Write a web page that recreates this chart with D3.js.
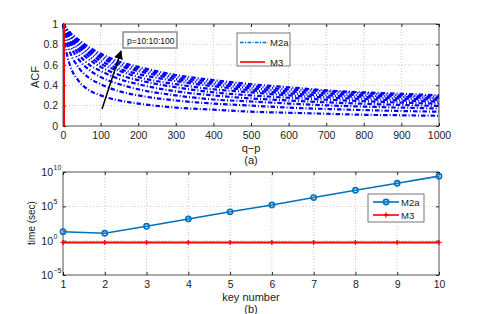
<!DOCTYPE html>
<html>
<head>
<meta charset="utf-8">
<script src="https://cdn.jsdelivr.net/npm/d3@7"></script>
<style>
  body { margin: 0; background: #fff; }
  svg { display: block; font-family: "Liberation Sans", Arial, sans-serif; }
  .tick text { font-size: 10.5px; fill: #222; }
</style>
</head>
<body>
<svg width="485" height="314"></svg>
<script>
// ---- panel (a): ACF vs q-p, one curve per p = 10:10:100 ----
var lags = [0, 5, 10, 20, 40, 70, 100, 150, 200, 300, 400, 500, 600, 700, 800, 900, 1000];
var acfP10  = [1, 0.82, 0.71, 0.58, 0.45, 0.35, 0.30, 0.25, 0.22, 0.18, 0.16, 0.14, 0.13, 0.12, 0.11, 0.105, 0.10];
var acfP20  = [1, 0.89, 0.82, 0.71, 0.58, 0.47, 0.41, 0.34, 0.30, 0.25, 0.22, 0.20, 0.18, 0.167, 0.156, 0.147, 0.14];
var acfP30  = [1, 0.93, 0.87, 0.78, 0.66, 0.55, 0.48, 0.41, 0.36, 0.30, 0.26, 0.24, 0.22, 0.203, 0.19, 0.18, 0.171];
var acfP40  = [1, 0.94, 0.89, 0.82, 0.71, 0.60, 0.54, 0.46, 0.41, 0.34, 0.30, 0.27, 0.25, 0.232, 0.218, 0.206, 0.196];
var acfP50  = [1, 0.95, 0.91, 0.85, 0.75, 0.65, 0.58, 0.50, 0.45, 0.38, 0.33, 0.30, 0.277, 0.258, 0.243, 0.229, 0.218];
var acfP60  = [1, 0.96, 0.93, 0.87, 0.78, 0.68, 0.61, 0.54, 0.48, 0.41, 0.36, 0.33, 0.30, 0.281, 0.264, 0.25, 0.238];
var acfP70  = [1, 0.97, 0.94, 0.88, 0.80, 0.71, 0.64, 0.56, 0.51, 0.44, 0.39, 0.35, 0.32, 0.30, 0.284, 0.269, 0.256];
var acfP80  = [1, 0.97, 0.94, 0.89, 0.82, 0.73, 0.67, 0.59, 0.54, 0.46, 0.41, 0.37, 0.34, 0.32, 0.30, 0.286, 0.272];
var acfP90  = [1, 0.97, 0.95, 0.91, 0.83, 0.75, 0.69, 0.61, 0.56, 0.48, 0.43, 0.39, 0.36, 0.34, 0.32, 0.30, 0.287];
var acfP100 = [1, 0.98, 0.95, 0.91, 0.85, 0.77, 0.71, 0.63, 0.58, 0.50, 0.45, 0.41, 0.38, 0.35, 0.33, 0.316, 0.30];
var m3Lags = [0, 0];
var m3Acf  = [0, 1];

// ---- panel (b): time vs key number ----
var keyNumbers = [1, 2, 3, 4, 5, 6, 7, 8, 9, 10];
var timeM2a = [20, 12, 125, 1450, 1.6e4, 1.6e5, 1.9e6, 2.2e7, 2.3e8, 2.5e9];
var timeM3  = [0.55, 0.55, 0.55, 0.55, 0.55, 0.55, 0.55, 0.55, 0.55, 0.55];

var acfTicks = [0, 0.2, 0.4, 0.6, 0.8, 1];
var lagTicks = [0, 100, 200, 300, 400, 500, 600, 700, 800, 900, 1000];
var timeTicks = [1e-5, 1, 1e5, 1e10];
var timeTickExp = ["\u22125", "0", "5", "10"];

var blue = "#0000ff", lightBlue = "#0072bd", red = "#ff0000", axisCol = "#262626", gridCol = "#bcbcbc";

var svg = d3.select("svg");
var left = 63, right = 439;

// ============ panel (a) ============
var x1 = d3.scaleLinear().domain([0, 1000]).range([left, right]),
  y1 = d3.scaleLinear().domain([0, 1]).range([126, 24]);

var g1 = svg.append("g");

// grid
g1.selectAll(".gx").data(lagTicks.slice(1, -1)).enter().append("line")
  .attr("x1", d => x1(d)).attr("x2", d => x1(d)).attr("y1", y1(0)).attr("y2", y1(1))
  .attr("stroke", gridCol).attr("stroke-width", 0.8).attr("stroke-dasharray", "1,2");
g1.selectAll(".gy").data(acfTicks.slice(1, -1)).enter().append("line")
  .attr("x1", left).attr("x2", right).attr("y1", d => y1(d)).attr("y2", d => y1(d))
  .attr("stroke", gridCol).attr("stroke-width", 0.8).attr("stroke-dasharray", "1,2");

var acfSeries = [acfP10, acfP20, acfP30, acfP40, acfP50, acfP60, acfP70, acfP80, acfP90, acfP100];

var acfLine = d3.line()
  .x((d, i) => x1(lags[i]))
  .y(d => y1(d))
  .curve(d3.curveMonotoneX);

g1.selectAll(".acf").data(acfSeries).enter().append("path")
  .attr("fill", "none")
  .attr("stroke", blue)
  .attr("stroke-width", 2.2)
  .attr("stroke-dasharray", "4.5,2,1,2")
  .attr("d", d => acfLine(d));

// axes (box style, ticks inward)
g1.append("g")
  .attr("transform", "translate(0,126)")
  .call(d3.axisBottom(x1).tickValues(lagTicks).tickSize(-3).tickPadding(6).tickFormat(d3.format("d")))
  .call(a => a.select(".domain").remove());
g1.append("g")
  .attr("transform", "translate(" + left + ",0)")
  .call(d3.axisLeft(y1).tickValues(acfTicks).tickSize(-3).tickPadding(5).tickFormat(d => d === 0 || d === 1 ? d : d3.format(".1f")(d)))
  .call(a => a.select(".domain").remove());
g1.append("g")
  .attr("transform", "translate(" + right + ",0)")
  .call(d3.axisRight(y1).tickValues(acfTicks).tickSize(-3).tickFormat(""))
  .call(a => a.select(".domain").remove());
g1.append("g")
  .attr("transform", "translate(0,24)")
  .call(d3.axisTop(x1).tickValues(lagTicks).tickSize(-3).tickFormat(""))
  .call(a => a.select(".domain").remove());
g1.selectAll(".tick line").attr("stroke", axisCol);
g1.append("rect").attr("x", left).attr("y", 24).attr("width", right - left).attr("height", 102)
  .attr("fill", "none").attr("stroke", axisCol).attr("stroke-width", 0.8);

// M3: only non-zero at lag 0
g1.append("path")
  .attr("fill", "none").attr("stroke", red).attr("stroke-width", 2)
  .attr("d", d3.line().x((d, i) => x1(m3Lags[i]) + 1).y(d => y1(d))(m3Acf));

g1.append("text").attr("x", 251).attr("y", 152).attr("text-anchor", "middle")
  .style("font-size", "11px").attr("fill", "#222").text("q\u2212p");
g1.append("text").attr("x", 251).attr("y", 164).attr("text-anchor", "middle")
  .style("font-size", "11px").attr("fill", "#222").text("(a)");
g1.append("text").attr("transform", "translate(39,77) rotate(-90)").attr("text-anchor", "middle")
  .style("font-size", "11px").attr("fill", "#222").text("ACF");

// annotation: arrow + p range box
svg.append("defs").append("marker")
  .attr("id", "head").attr("viewBox", "0 0 10 10").attr("refX", 9).attr("refY", 5)
  .attr("markerWidth", 6).attr("markerHeight", 6).attr("orient", "auto")
  .append("path").attr("d", "M0,0 L10,5 L0,10 Z").attr("fill", "#000");
g1.append("line").attr("x1", 102).attr("y1", 109).attr("x2", 121).attr("y2", 51)
  .attr("stroke", "#000").attr("stroke-width", 1.5).attr("marker-end", "url(#head)");
g1.append("rect").attr("x", 123).attr("y", 32).attr("width", 54).attr("height", 16)
  .attr("fill", "#fff").attr("stroke", "#8c8c8c").attr("stroke-width", 1.5);
g1.append("text").attr("x", 127).attr("y", 43.5).style("font-size", "8.5px").attr("fill", "#111").text("p=10:10:100");

// legend (a)
var leg1 = g1.append("g");
leg1.append("rect").attr("x", 237).attr("y", 33).attr("width", 53).attr("height", 33)
  .attr("fill", "#fff").attr("stroke", "#555").attr("stroke-width", 0.8);
leg1.append("line").attr("x1", 240).attr("x2", 268).attr("y1", 42.5).attr("y2", 42.5)
  .attr("stroke", lightBlue).attr("stroke-width", 1.3).attr("stroke-dasharray", "3.5,1.5,1,1.5");
leg1.append("text").attr("x", 270).attr("y", 46).style("font-size", "9.5px").attr("fill", "#222").text("M2a");
leg1.append("line").attr("x1", 240).attr("x2", 265).attr("y1", 62).attr("y2", 62)
  .attr("stroke", red).attr("stroke-width", 1.6);
leg1.append("text").attr("x", 270).attr("y", 65.5).style("font-size", "9.5px").attr("fill", "#222").text("M3");

// ============ panel (b) ============
var x2 = d3.scaleLinear().domain([1, 10]).range([left, right]),
  y2 = d3.scaleLog().domain([1e-5, 1e10]).range([275, 172]);

var g2 = svg.append("g");

g2.selectAll(".gx").data(keyNumbers.slice(1, -1)).enter().append("line")
  .attr("x1", d => x2(d)).attr("x2", d => x2(d)).attr("y1", 172).attr("y2", 275)
  .attr("stroke", gridCol).attr("stroke-width", 0.8).attr("stroke-dasharray", "1,2");
g2.selectAll(".gy").data(timeTicks.slice(1, -1)).enter().append("line")
  .attr("x1", left).attr("x2", right).attr("y1", d => y2(d)).attr("y2", d => y2(d))
  .attr("stroke", gridCol).attr("stroke-width", 0.8).attr("stroke-dasharray", "1,2");

g2.append("g")
  .attr("transform", "translate(0,275)")
  .call(d3.axisBottom(x2).tickValues(keyNumbers).tickSize(-3).tickPadding(6).tickFormat(d3.format("d")))
  .call(a => a.select(".domain").remove());
g2.append("g")
  .attr("transform", "translate(" + left + ",0)")
  .call(d3.axisLeft(y2).tickValues(timeTicks).tickSize(-3).tickFormat(""))
  .call(a => a.select(".domain").remove());
g2.append("g")
  .attr("transform", "translate(" + right + ",0)")
  .call(d3.axisRight(y2).tickValues(timeTicks).tickSize(-3).tickFormat(""))
  .call(a => a.select(".domain").remove());
g2.append("g")
  .attr("transform", "translate(0,172)")
  .call(d3.axisTop(x2).tickValues(keyNumbers).tickSize(-3).tickFormat(""))
  .call(a => a.select(".domain").remove());
g2.selectAll(".tick line").attr("stroke", axisCol);

// log tick labels with superscripts
g2.selectAll(".ylab").data(timeTicks).enter().append("text")
  .attr("x", 53).attr("y", d => y2(d) + 4).attr("text-anchor", "end")
  .style("font-size", "10.5px").attr("fill", "#222").text("10");
g2.selectAll(".yexp").data(timeTicks).enter().append("text")
  .attr("x", 53.5).attr("y", (d, i) => y2(d) - 2)
  .style("font-size", "7px").attr("fill", "#222").text((d, i) => timeTickExp[i]);

g2.append("rect").attr("x", left).attr("y", 172).attr("width", right - left).attr("height", 103)
  .attr("fill", "none").attr("stroke", axisCol).attr("stroke-width", 0.8);

// M3 series
g2.append("path")
  .attr("fill", "none").attr("stroke", red).attr("stroke-width", 2)
  .attr("d", d3.line().x((d, i) => x2(keyNumbers[i])).y(d => y2(d))(timeM3));
g2.selectAll(".m3").data(timeM3).enter().append("path")
  .attr("transform", (d, i) => "translate(" + x2(keyNumbers[i]) + "," + y2(d) + ")")
  .attr("d", "M-2.5,0H2.5M0,-2.5V2.5").attr("stroke", red).attr("stroke-width", 1.3);

// M2a series
g2.append("path")
  .attr("fill", "none").attr("stroke", lightBlue).attr("stroke-width", 1.6)
  .attr("d", d3.line().x((d, i) => x2(keyNumbers[i])).y(d => y2(d))(timeM2a));
g2.selectAll(".m2a").data(timeM2a).enter().append("circle")
  .attr("cx", (d, i) => x2(keyNumbers[i])).attr("cy", d => y2(d)).attr("r", 2.6)
  .attr("fill", "none").attr("stroke", lightBlue).attr("stroke-width", 1.6);

g2.append("text").attr("x", 251).attr("y", 301).attr("text-anchor", "middle")
  .style("font-size", "11px").attr("fill", "#222").text("key number");
g2.append("text").attr("x", 251).attr("y", 313).attr("text-anchor", "middle")
  .style("font-size", "11px").attr("fill", "#222").text("(b)");
g2.append("text").attr("transform", "translate(35,223) rotate(-90)").attr("text-anchor", "middle")
  .style("font-size", "10px").attr("fill", "#222").text("time (sec)");

// legend (b)
var leg2 = g2.append("g");
leg2.append("rect").attr("x", 368).attr("y", 194).attr("width", 56).attr("height", 28)
  .attr("fill", "#fff").attr("stroke", "#555").attr("stroke-width", 0.8);
leg2.append("line").attr("x1", 373).attr("x2", 399).attr("y1", 202).attr("y2", 202)
  .attr("stroke", lightBlue).attr("stroke-width", 1.6);
leg2.append("circle").attr("cx", 386).attr("cy", 202).attr("r", 2.6)
  .attr("fill", "none").attr("stroke", lightBlue).attr("stroke-width", 1.6);
leg2.append("text").attr("x", 401).attr("y", 205.5).style("font-size", "9.5px").attr("fill", "#222").text("M2a");
leg2.append("line").attr("x1", 373).attr("x2", 399).attr("y1", 215).attr("y2", 215)
  .attr("stroke", red).attr("stroke-width", 1.6);
leg2.append("path").attr("transform", "translate(386,215)")
  .attr("d", "M-2.5,0H2.5M0,-2.5V2.5").attr("stroke", red).attr("stroke-width", 1.3);
leg2.append("text").attr("x", 401).attr("y", 218.5).style("font-size", "9.5px").attr("fill", "#222").text("M3");
</script>
</body>
</html>
